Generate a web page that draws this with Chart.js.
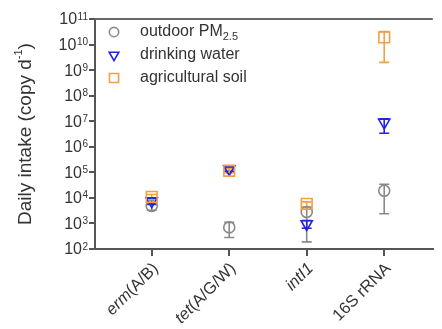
<!DOCTYPE html>
<html>
<head>
<meta charset="utf-8">
<script src="https://cdn.jsdelivr.net/npm/chart.js@4/dist/chart.umd.min.js"></script>
<style>
html,body{margin:0;padding:0;background:#fff;}
#wrap{width:442px;height:329px;position:relative;}
</style>
</head>
<body>
<div id="wrap"><canvas id="c" width="442" height="329"></canvas></div>
<script>
// ---- data ----
const categories = ['erm(A/B)', 'tet(A/G/W)', 'intI1', '16S rRNA'];
const seriesNames = ['outdoor PM', 'drinking water', 'agricultural soil'];
const seriesSubs = ['2.5', '', ''];
const pm25     = [4.8e3, 7.0e2, 2.8e3, 1.9e4];
const pm25Low  = [3.3e3, 2.8e2, 1.9e2, 2.4e3];
const pm25High = [6.2e3, 1.1e3, 4.2e3, 3.4e4];
const water     = [7.5e3, 1.35e5, 9.5e2, 9.0e6];
const waterLow  = [5.5e3, 1.1e5, 6.5e2, 3.4e6];
const waterHigh = [9.5e3, 1.6e5, 1.3e3, 1.25e7];
const soil     = [1.1e4, 1.15e5, 5.8e3, 1.9e10];
const soilLow  = [8.5e3, 9.5e4, 4.5e3, 2.0e9];
const soilHigh = [1.35e4, 1.4e5, 7.0e3, 3.2e10];
const yTickValues = [1e2,1e3,1e4,1e5,1e6,1e7,1e8,1e9,1e10,1e11];
const yTitle = 'Daily intake (copy d';
const yTitleSup = '-1';
const yTitleEnd = ')';

// ---- build ----
const FONT = '"Liberation Sans", Arial, sans-serif';
const TEXT = '#333';
const AXIS = '#555';
const italicPart = {'erm(A/B)':'erm','tet(A/G/W)':'tet','intI1':'intI1','16S rRNA':''};

function pts(vals){ return vals.map((v,i)=>({x:i+1,y:v})); }
const series = [
  {vals:pm25, lo:pm25Low, hi:pm25High, color:'#8a8a8a', style:'circle', rot:0, r:5.5},
  {vals:water, lo:waterLow, hi:waterHigh, color:'#2424dd', style:'triangle', rot:180, r:6.5},
  {vals:soil, lo:soilLow, hi:soilHigh, color:'#f2a044', style:'rect', rot:0, r:7.6}
];
const datasets = series.map((s,k)=>({
  label: seriesNames[k]+seriesSubs[k],
  data: pts(s.vals),
  showLine:false,
  pointStyle:s.style,
  rotation:s.rot,
  pointRadius:s.r,
  pointHoverRadius:s.r,
  borderColor:s.color,
  backgroundColor:'rgba(0,0,0,0)',
  pointBorderWidth:1.6,
  order: 2-k
}));

const decor = {
  id:'decor',
  beforeDatasetsDraw(chart){
    const ctx = chart.ctx, xs = chart.scales.x, ys = chart.scales.y;
    ctx.save();
    series.forEach(s=>{
      ctx.strokeStyle = s.color; ctx.lineWidth = 1.6;
      s.vals.forEach((v,i)=>{
        const x = xs.getPixelForValue(i+1);
        const y1 = ys.getPixelForValue(s.lo[i]);
        const y2 = ys.getPixelForValue(s.hi[i]);
        ctx.beginPath();
        ctx.moveTo(x,y1); ctx.lineTo(x,y2);
        ctx.moveTo(x-5,y1); ctx.lineTo(x+5,y1);
        ctx.moveTo(x-5,y2); ctx.lineTo(x+5,y2);
        ctx.stroke();
      });
    });
    ctx.restore();
  },
  afterDraw(chart){
    const ctx = chart.ctx, ca = chart.chartArea, xs = chart.scales.x, ys = chart.scales.y;
    ctx.save();
    // top border
    ctx.strokeStyle = '#666'; ctx.lineWidth = 2;
    ctx.beginPath(); ctx.moveTo(ca.left, ca.top); ctx.lineTo(ca.right, ca.top); ctx.stroke();
    // y tick labels 10^n
    ctx.fillStyle = TEXT;
    ys.ticks.forEach(t=>{
      const e = String(Math.round(Math.log10(t.value)));
      const y = ys.getPixelForValue(t.value);
      ctx.font = '10px '+FONT;
      const ew = ctx.measureText(e).width;
      const right = ca.left - 7;
      ctx.textAlign = 'left'; ctx.textBaseline = 'alphabetic';
      ctx.fillText(e, right-ew, y+0.5);
      ctx.font = '16px '+FONT;
      ctx.textAlign = 'right'; ctx.textBaseline = 'middle';
      ctx.fillText('10', right-ew-0.5, y+1);
    });
    // x labels rotated
    xs.ticks.forEach(t=>{
      const idx = Math.round(t.value)-1;
      const lab = categories[idx];
      if(!lab) return;
      const it = italicPart[lab] || '';
      const rest = lab.slice(it.length);
      const x = xs.getPixelForValue(t.value);
      ctx.save();
      ctx.translate(x+4, ca.bottom+17);
      ctx.rotate(-Math.PI/4);
      ctx.textBaseline = 'middle'; ctx.textAlign = 'left';
      ctx.font = '16.5px '+FONT;
      const rw = ctx.measureText(rest).width;
      ctx.font = 'italic 16.5px '+FONT;
      const iw = ctx.measureText(it).width;
      ctx.fillText(it, -rw-iw, 0);
      ctx.font = '16.5px '+FONT;
      ctx.fillText(rest, -rw, 0);
      ctx.restore();
    });
    // y title
    ctx.save();
    ctx.translate(26, (ca.top+ca.bottom)/2);
    ctx.rotate(-Math.PI/2);
    ctx.font = '19px '+FONT;
    const w1 = ctx.measureText(yTitle).width;
    const w3 = ctx.measureText(yTitleEnd).width;
    ctx.font = '11px '+FONT;
    const w2 = ctx.measureText(yTitleSup).width;
    let sx = -(w1+w2+w3)/2;
    ctx.textAlign='left'; ctx.textBaseline='middle';
    ctx.font = '19px '+FONT; ctx.fillText(yTitle, sx, 0);
    ctx.font = '11px '+FONT; ctx.fillText(yTitleSup, sx+w1, -7);
    ctx.font = '19px '+FONT; ctx.fillText(yTitleEnd, sx+w1+w2, 0);
    ctx.restore();
    // legend
    const rows = [ca.top+13, ca.top+36, ca.top+59];
    series.forEach((s,k)=>{
      const y = rows[k];
      ctx.strokeStyle = s.color;
      ctx.fillStyle = 'rgba(0,0,0,0)';
      ctx.lineWidth = 1.6;
      Chart.helpers.drawPoint(ctx, {pointStyle:s.style, rotation:s.rot, radius:s.r*0.85, borderWidth:1.6}, ca.left+19, y);
      ctx.fillStyle = TEXT;
      ctx.textAlign='left'; ctx.textBaseline='middle';
      ctx.font = '16px '+FONT;
      ctx.fillText(seriesNames[k], ca.left+45, y);
      if(seriesSubs[k]){
        const w = ctx.measureText(seriesNames[k]).width;
        ctx.font = '11px '+FONT;
        ctx.fillText(seriesSubs[k], ca.left+45+w, y+5);
      }
    });
    ctx.restore();
  }
};

new Chart(document.getElementById('c'), {
  type:'scatter',
  data:{datasets},
  options:{
    responsive:false,
    animation:false,
    layout:{padding:{top:19,right:0,left:0,bottom:0}},
    plugins:{legend:{display:false}, tooltip:{enabled:false}},
    scales:{
      x:{
        type:'linear', min:0.268, max:4.627,
        afterBuildTicks(s){ s.ticks = categories.map((c,i)=>({value:i+1})); },
        afterFit(s){ s.height = 80; },
        ticks:{display:false},
        grid:{display:true, drawOnChartArea:false, drawTicks:true, tickLength:7, color:AXIS, lineWidth:2},
        border:{display:true, color:AXIS, width:2}
      },
      y:{
        type:'logarithmic', min:1e2, max:1e11,
        afterBuildTicks(s){ s.ticks = yTickValues.map(v=>({value:v, major:true})); },
        afterFit(s){ s.width = 95; },
        ticks:{display:false},
        grid:{display:true, drawOnChartArea:false, drawTicks:true, tickLength:6, color:AXIS, lineWidth:2},
        border:{display:true, color:AXIS, width:2}
      }
    }
  },
  plugins:[decor]
});
</script>
</body>
</html>
